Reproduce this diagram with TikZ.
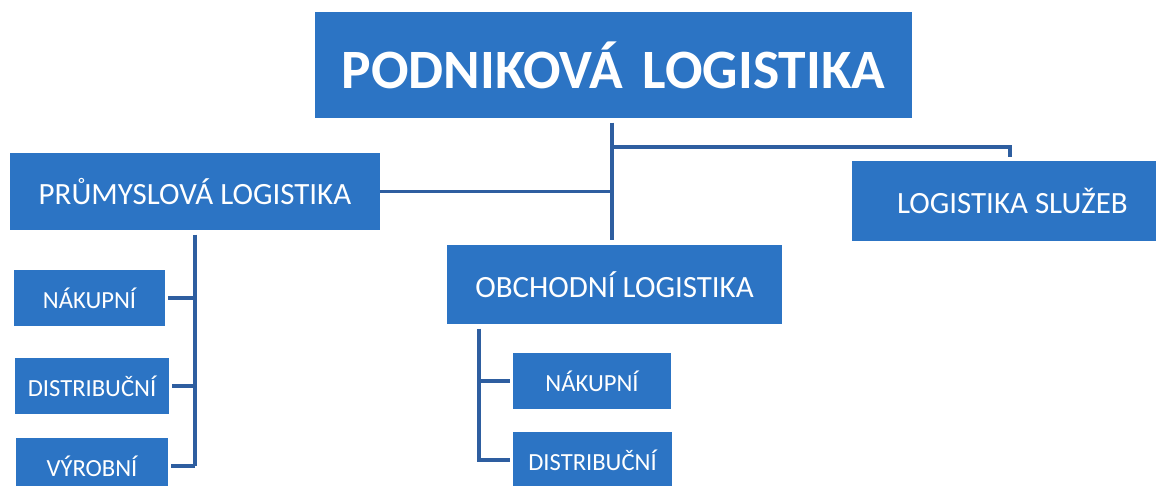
\documentclass[tikz,border=0pt]{standalone}
\usepackage{fontspec}
\setmainfont{Carlito}
\usepackage{tikz}
\usepackage{xcolor}
\definecolor{boxblue}{RGB}{44,116,196}
\definecolor{lineblue}{RGB}{46,94,160}
\tikzset{
    blue-box/.style = {fill=boxblue, text=white, rectangle, inner sep=0pt},
    title-box/.style = {blue-box, font=\fontsize{39.5}{42}\selectfont\bfseries},
    mid-box/.style = {blue-box, font=\fontsize{22}{24}\selectfont},
    small-box/.style = {blue-box, font=\fontsize{17.5}{20}\selectfont, minimum height=1.4cm},
    link/.style = {draw=lineblue, line width=2.6pt},
}

\begin{document}
\begin{tikzpicture}[x=0.025cm, y=-0.025cm]
\useasboundingbox (0,0) rectangle (1156,486);

% main levels
\node [title-box, minimum width=14.925cm, minimum height=2.65cm] (top) at (613.5,65) {PODNIKOVÁ\hspace{5pt} LOGISTIKA};
\node [mid-box, minimum width=9.25cm, minimum height=1.925cm] (prum) at (195,191.5) {PRŮMYSLOVÁ LOGISTIKA};
\node [mid-box, minimum width=7.6cm, minimum height=1.975cm, text depth=0pt] (sluz) at (1004,201) {\hspace{12pt}LOGISTIKA SLUŽEB};
\node [mid-box, minimum width=8.375cm, minimum height=1.975cm] (obch) at (614.5,284.5) {OBCHODNÍ LOGISTIKA};

% sub boxes
\node [small-box, minimum width=3.775cm] (nak1) at (89.5,298) {NÁKUPNÍ};
\node [small-box, minimum width=3.85cm] (dis1) at (92,386) {DISTRIBUČNÍ};
\node [small-box, minimum width=3.8cm] (vyr1) at (92,466) {VÝROBNÍ};
\node [small-box, minimum width=3.95cm] (nak2) at (592,381) {NÁKUPNÍ};
\node [small-box, minimum width=3.975cm] (dis2) at (592.5,460) {DISTRIBUČNÍ};

% connectors
\coordinate (trunk) at (612,0);
\coordinate (obus) at ([shift={(32,0)}]obch.south west);
\draw [link] ([yshift=-3pt]top.south -| trunk) -- ([yshift=3pt]obch.north -| trunk);
\draw [link] (trunk |- 0,147) -| ([shift={(6,-4)}]sluz.north);
\draw [link] (prum.east) -- (prum.east -| trunk);
\draw [link] ([yshift=-3pt]prum.south) -- (prum.south |- vyr1.east);
\foreach \n in {nak1, dis1, vyr1}
    \draw [link] ([xshift=2pt]\n.east) -- (\n.east -| prum.south);
\draw [link] ([yshift=-3pt]obus) |- ([xshift=-2pt]dis2.west);
\draw [link] ([xshift=-2pt]nak2.west) -- (nak2.west -| obus);
\end{tikzpicture}
\end{document}
